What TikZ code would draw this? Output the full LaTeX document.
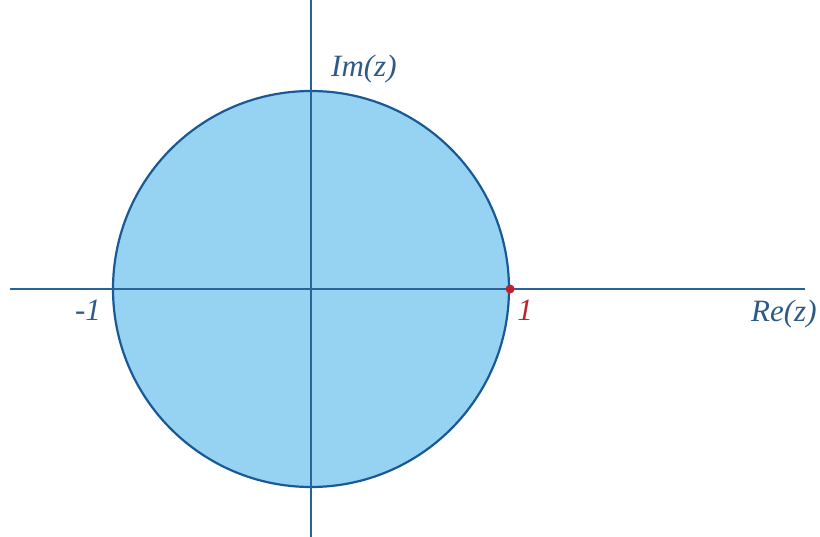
\documentclass[tikz,border=0pt]{standalone}
\usepackage{fontspec}
\setmainfont{Liberation Serif}
\definecolor{diskfill}{RGB}{150,211,243}
\definecolor{diskline}{RGB}{25,90,150}
\definecolor{axisline}{RGB}{40,100,150}
\definecolor{labelcol}{RGB}{45,90,135}
\definecolor{redpt}{RGB}{190,35,45}
\begin{document}
\begin{tikzpicture}[x=1pt,y=-1pt,
  axis/.style={draw=axisline,line width=1.3pt},
  lab/.style={text=labelcol,font=\fontsize{31}{34}\selectfont\itshape,inner sep=0pt}]
\useasboundingbox (0,0) rectangle (820,537);
\coordinate (O) at (311,289);
\node[circle,minimum size=396pt,inner sep=0pt,fill=diskfill,draw=diskline,line width=2.2pt] (disk) at (O) {};
\coordinate (xl) at (10,289);
\coordinate (xr) at (805,289);
\coordinate (yt) at (311,0);
\coordinate (yb) at (311,537);
\draw[axis] (xl) -- (xr);
\draw[axis] (yt) -- (yb);
\fill[redpt] (disk.east) circle (4.5pt);
\node[lab,anchor=base west] (im) at (331,77) {Im(z)};
\node[lab,anchor=base west] (re) at (751,322) {Re(z)};
\node[lab,anchor=base] (m1) at (88,321) {-1};
\node[lab,anchor=base,text=redpt] (p1) at (525,321) {1};
\end{tikzpicture}
\end{document}
